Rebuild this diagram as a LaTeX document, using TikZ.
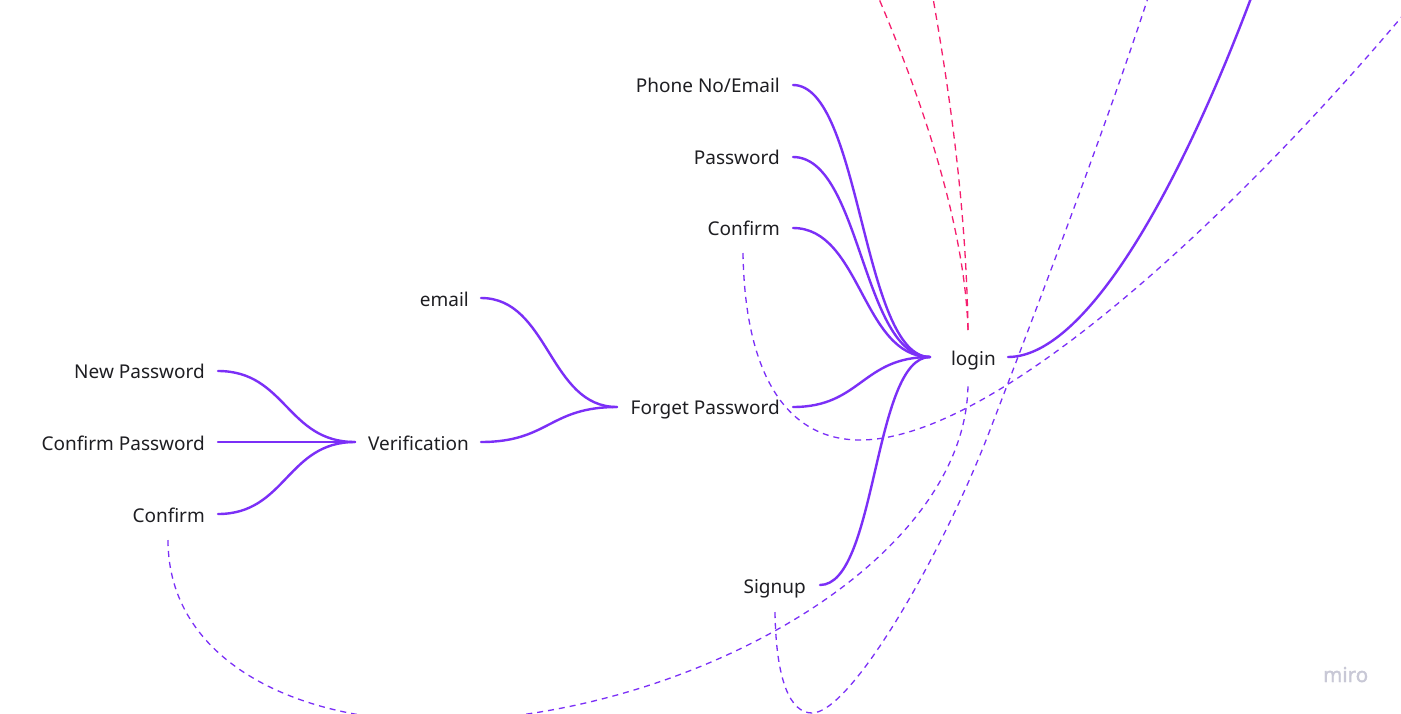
\documentclass[tikz,border=0pt]{standalone}
\usepackage{fontspec}
\setmainfont{Noto Sans}
\newfontface\logofont{Noto Sans}[FakeBold=1.6]
\definecolor{vio}{RGB}{123,47,247}
\definecolor{pnk}{RGB}{245,30,110}
\definecolor{txt}{RGB}{30,30,34}
\definecolor{logo}{RGB}{200,200,214}
\tikzset{
  lbl/.style={anchor=base east, inner sep=0pt, text=txt, font=\fontsize{19}{22}\selectfont},
  conn/.style={draw=vio, line width=2.4pt, line cap=round},
  dconn/.style={draw=vio, line width=1.3pt, dash pattern=on 6pt off 5pt},
  pconn/.style={draw=pnk, line width=1.3pt, dash pattern=on 7pt off 5pt}
}
\begin{document}
\begin{tikzpicture}[x=1pt,y=-1pt]
\useasboundingbox (0,0) rectangle (1401,713);
\fill[white] (0,0) rectangle (1401,713);
\clip (0,0) rectangle (1401,713);
% text nodes
\node[lbl] (phone) at (780,92) {Phone No/Email};
\node[lbl] (pass) at (780,164) {Password};
\node[lbl] (conf1) at (780,235) {Confirm};
\node[lbl] (forget) at (780,414) {Forget Password};
\node[lbl] (signup) at (806,593) {Signup};
\node[lbl] (login) at (996,365) {login};
\node[lbl] (email) at (469,306) {email};
\node[lbl] (verif) at (469,450) {Verification};
\node[lbl] (newp) at (205,378) {New Password};
\node[lbl] (confp) at (205,450) {Confirm Password};
\node[lbl] (conf2) at (205,522) {Confirm};
\node[anchor=base west, inner sep=0pt, text=logo, font=\fontsize{20.5}{22}\logofont] (miro) at (1323,682) {miro};
% connector ends
\coordinate (phE) at (793,85);
\coordinate (paE) at (793,157);
\coordinate (c1E) at (793,228);
\coordinate (fgE) at (793,407);
\coordinate (suE) at (820,585);
\coordinate (loW) at (930,357);
\coordinate (loE) at (1008,357);
\coordinate (emE) at (481,298);
\coordinate (veE) at (481,442);
\coordinate (fgW) at (617,407);
\coordinate (veW) at (355,442);
\coordinate (npE) at (218,371);
\coordinate (cpE) at (218,442);
\coordinate (c2E) at (218,514);
\coordinate (c1S) at (743,253);
\coordinate (suS) at (775,612);
\coordinate (loS) at (968,383);
\coordinate (loN) at (968,330);
\coordinate (c2S) at (168,540);
\coordinate (offA) at (862,-40);
\coordinate (offB) at (928,-30);
\coordinate (offC) at (1160,-40);
\coordinate (offD) at (1420,-5);
\coordinate (offE) at (1265,-40);
\coordinate (m1) at (434,721);
\coordinate (m2) at (812,713);
\coordinate (m3) at (990,430);
\coordinate (m4) at (860,440);
% dashed connectors
\draw[pconn] (loN) .. controls (965,230) and (925,100) .. (offA);
\draw[pconn] (loN) .. controls (966,200) and (948,80) .. (offB);
\draw[dconn] (c2S) .. controls (168,660) and (295,721) .. (m1) .. controls (680,721) and (968,565) .. (loS);
\draw[dconn] (suS) .. controls (776,680) and (790,713) .. (m2) .. controls (850,713) and (940,560) .. (m3) .. controls (1040,300) and (1120,90) .. (offC);
\draw[dconn] (c1S) .. controls (745,380) and (790,440) .. (m4) .. controls (1000,440) and (1250,200) .. (offD);
% solid connectors
\draw[conn] (phE) .. controls (861,85) and (862,357) .. (loW);
\draw[conn] (paE) .. controls (861,157) and (862,357) .. (loW);
\draw[conn] (c1E) .. controls (861,228) and (862,357) .. (loW);
\draw[conn] (fgE) .. controls (861,407) and (862,357) .. (loW);
\draw[conn] (suE) .. controls (877,585) and (873,357) .. (loW);
\draw[conn] (loE) .. controls (1090,357) and (1190,170) .. (offE);
\draw[conn] (emE) .. controls (549,298) and (549,407) .. (fgW);
\draw[conn] (veE) .. controls (549,442) and (549,407) .. (fgW);
\draw[conn] (npE) .. controls (286,371) and (287,442) .. (veW);
\draw[conn] (cpE) -- (veW);
\draw[conn] (c2E) .. controls (286,514) and (287,442) .. (veW);
\end{tikzpicture}
\end{document}
